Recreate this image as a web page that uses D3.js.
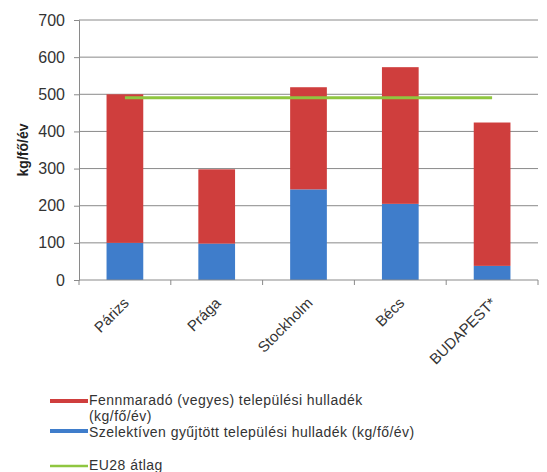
<!DOCTYPE html>
<html>
<head>
<meta charset="utf-8">
<script src="https://cdn.jsdelivr.net/npm/d3@7"></script>
<style>
  body { margin: 0; background: #fff; }
  svg { font-family: "Liberation Sans", Arial, sans-serif; }
</style>
</head>
<body>
<svg id="chart" width="547" height="472"></svg>
<script>
// Municipal waste per capita, kg/fő/év
const cities = ["Párizs", "Prága", "Stockholm", "Bécs", "BUDAPEST*"];
const selective = [100, 98, 244, 205, 38];   // szelektíven gyűjtött
const residual = [400, 200, 275, 368, 386];  // fennmaradó (vegyes)
const eu28Average = 491;
const yTicks = [0, 100, 200, 300, 400, 500, 600, 700];
const legendLabels = [
  ["Fennmaradó (vegyes) települési hulladék", "(kg/fő/év)"],
  ["Szelektíven gyűjtött települési hulladék (kg/fő/év)"],
  ["EU28 átlag"]
];

const colRed = "#cf3e3d", colBlue = "#3f7dcb", colGreen = "#8fc640";
const textCol = "#333";

const svg = d3.select("#chart");
const m = { left: 79, right: 538, top: 20, bottom: 280 };

const x = d3.scaleBand().domain(cities).range([m.left, m.right]).paddingInner(0.6).paddingOuter(0.3);
const y = d3.scaleLinear().domain([0, 700]).range([m.bottom, m.top]);

// gridlines
svg.append("g").selectAll("line").data(yTicks.filter(d => d > 0)).join("line")
  .attr("x1", m.left).attr("x2", m.right)
  .attr("y1", d => y(d)).attr("y2", d => y(d))
  .attr("stroke", "#8a8a8a").attr("stroke-width", 1);

// stacked bars
const rows = cities.map((c, i) => ({ city: c, selective: selective[i], residual: residual[i] }));
const stack = d3.stack().keys(["selective", "residual"])(rows);
const colors = { selective: colBlue, residual: colRed };
svg.append("g").selectAll("g").data(stack).join("g")
  .attr("fill", s => colors[s.key])
  .selectAll("rect").data(s => s).join("rect")
  .attr("x", d => x(d.data.city))
  .attr("width", x.bandwidth())
  .attr("y", d => y(d[1]))
  .attr("height", d => y(d[0]) - y(d[1]));

// EU28 average line
svg.append("line")
  .attr("x1", x(cities[0]) + x.bandwidth() / 2)
  .attr("x2", x(cities[cities.length - 1]) + x.bandwidth() / 2)
  .attr("y1", y(eu28Average)).attr("y2", y(eu28Average))
  .attr("stroke", colGreen).attr("stroke-width", 3);

// y axis
const yAxis = svg.append("g").attr("transform", `translate(${m.left},0)`)
  .call(d3.axisLeft(y).tickValues(yTicks).tickSize(5).tickPadding(9));
yAxis.select(".domain").attr("stroke", "#8a8a8a");
yAxis.selectAll(".tick line").attr("stroke", "#8a8a8a");
yAxis.selectAll("text").attr("font-size", 16).attr("fill", textCol)
  .attr("font-family", "Liberation Sans, Arial, sans-serif");

// x axis
const xAxisG = svg.append("g").attr("transform", `translate(0,${m.bottom})`);
xAxisG.append("line").attr("x1", m.left).attr("x2", m.right).attr("stroke", "#8a8a8a");
const bounds = d3.range(cities.length + 1).map(i => m.left + (m.right - m.left) * i / cities.length);
xAxisG.selectAll(".tk").data(bounds).join("line")
  .attr("x1", d => d).attr("x2", d => d).attr("y1", 0).attr("y2", 5)
  .attr("stroke", "#8a8a8a");
xAxisG.selectAll("text").data(cities).join("text")
  .attr("transform", d => `translate(${x(d) + x.bandwidth() / 2 + 5},${24}) rotate(-45)`)
  .attr("text-anchor", "end")
  .attr("font-size", 15)
  .attr("fill", textCol)
  .text(d => d);

// y axis title
svg.append("text")
  .attr("transform", "translate(28,150) rotate(-90)")
  .attr("text-anchor", "middle")
  .attr("font-size", 14)
  .attr("font-weight", "bold")
  .attr("fill", "#222")
  .text("kg/fő/év");

// legend
const legend = svg.append("g");
const legendItems = [
  { color: colRed, h: 4, y: 401, ty: [405, 421], lines: legendLabels[0] },
  { color: colBlue, h: 4, y: 431, ty: [437], lines: legendLabels[1] },
  { color: colGreen, h: 2.5, y: 466, ty: [470], lines: legendLabels[2] }
];
legendItems.forEach(it => {
  legend.append("rect").attr("x", 50).attr("y", it.y - it.h / 2)
    .attr("width", 38).attr("height", it.h).attr("fill", it.color);
  it.lines.forEach((t, j) => {
    legend.append("text").attr("x", 89).attr("y", it.ty[j])
      .attr("font-size", 14).attr("letter-spacing", 0.45)
      .attr("fill", textCol).text(t);
  });
});
</script>
</body>
</html>
